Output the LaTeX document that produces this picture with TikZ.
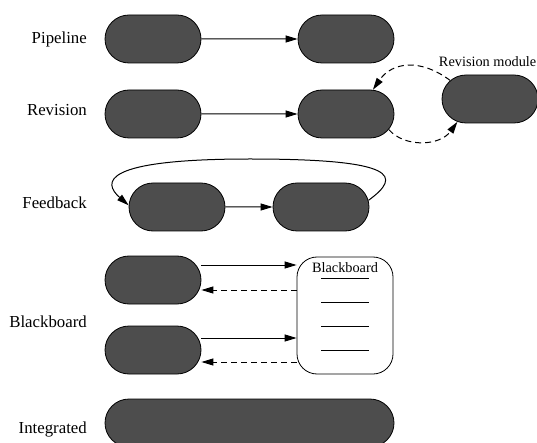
\documentclass[tikz,border=0pt]{standalone}
\usepackage{fontspec}
\setmainfont{Liberation Serif}
\usetikzlibrary{shapes.misc,arrows.meta,calc}
\definecolor{modgray}{HTML}{4D4D4D}
\begin{document}
\begin{tikzpicture}[x=1pt,y=-1pt,
  module/.style={rounded rectangle, draw=black, line width=0.8pt, fill=modgray,
    minimum width=96pt, minimum height=48pt, inner sep=0pt},
  boardbox/.style={draw=black, line width=0.8pt, rounded corners=20pt,
    minimum width=96pt, minimum height=117pt, inner sep=0pt},
  rowlabel/.style={anchor=base east, inner sep=0pt, font=\fontsize{16.8}{20}\selectfont},
  smalltext/.style={inner sep=0pt, font=\fontsize{14.3}{17}\selectfont},
  flow/.style={-{Triangle[length=12pt,width=7pt]}, line width=1pt},
  reply/.style={flow, dash pattern=on 6pt off 4pt}]
\useasboundingbox (0,0) rectangle (537,443);

% row labels
\node[rowlabel] (lp) at (87,44) {Pipeline};
\node[rowlabel] (lr) at (87,116) {Revision};
\node[rowlabel] (lf) at (87,208.5) {Feedback};
\node[rowlabel] (lb) at (87,327) {Blackboard};
\node[rowlabel] (li) at (87,433) {Integrated};

% pipeline
\node[module] (p1) at (153,39) {};
\node[module] (p2) at (346,39) {};
\draw[flow] (p1) -- (p2);

% revision
\node[module] (r1) at (153,114) {};
\node[module] (r2) at (346,114) {};
\node[module] (rm) at (490,99) {};
\node[smalltext, anchor=base east] (rmlabel) at (536.5,67) {Revision module};
\draw[flow] (r1) -- (r2);
\draw[reply] (rm.155) .. controls (420,58) and (392,62) .. (r2.42);
\draw[reply] (r2.-20) .. controls (405,148) and (440,146) .. (rm.-145);

% feedback
\node[module] (f1) at (177,207) {};
\node[module] (f2) at (321,207) {};
\draw[flow] (f1) -- (f2);
\draw[flow] (f2.8) .. controls (402,176) and (398,159) .. (250,159)
  .. controls (102,159) and (102,182) .. (f1.178);

% blackboard
\node[module] (b1) at (153,280) {};
\node[module] (b2) at (153,350) {};
\node[boardbox] (board) at (345,315.5) {};
\node[smalltext, anchor=base] (bbtitle) at (345,272) {Blackboard};
\foreach \yy in {278,302,326,350}
  \draw[line width=0.9pt] (321,\yy) -- (369,\yy);
\draw[flow] ([yshift=15pt]b1.east) -- ([yshift=15pt]b1.east -| board.west);
\draw[reply] ([yshift=-10pt]b1.east -| board.west) -- ([yshift=-10pt]b1.east);
\draw[flow] ([yshift=12pt]b2.east) -- ([yshift=12pt]b2.east -| board.west);
\draw[reply] ([yshift=-12pt]b2.east -| board.west) -- ([yshift=-12pt]b2.east);

% integrated
\node[module, minimum width=289pt] (int) at (249.5,423) {};
\end{tikzpicture}
\end{document}
